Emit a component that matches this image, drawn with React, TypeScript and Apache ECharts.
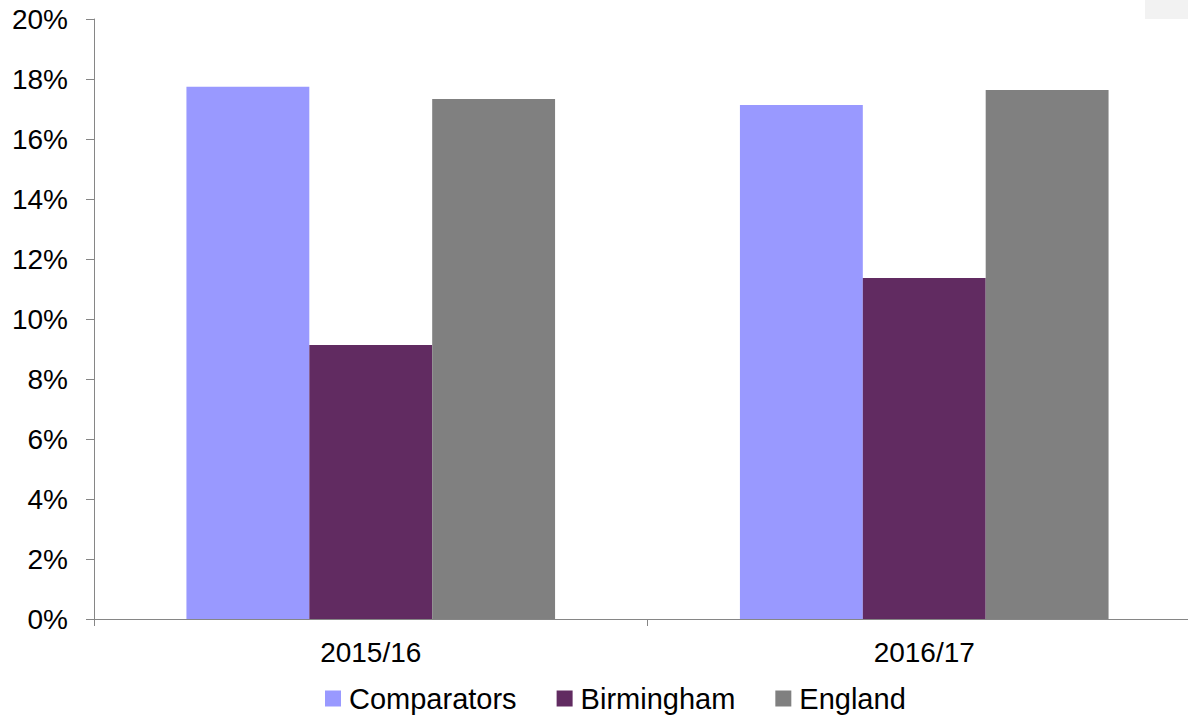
import React, { useEffect, useRef } from "react";
import * as echarts from "echarts";

const categories = ["2015/16", "2016/17"];
const seriesNames = ["Comparators", "Birmingham", "England"];
const comparators = [17.74, 17.13];
const birmingham = [9.13, 11.37];
const england = [17.33, 17.63];
const yTicks = { min: 0, max: 20, interval: 2 };
const colors = ["#9999FF", "#612B61", "#808080"];

export default function App() {
  const ref = useRef<HTMLDivElement>(null);
  useEffect(() => {
    if (!ref.current) return;
    const chart = echarts.init(ref.current, undefined, { renderer: "svg" });
    const font = "'Liberation Sans', Arial, sans-serif";
    const data = [comparators, birmingham, england];
    chart.setOption({
      animation: false,
      backgroundColor: "#ffffff",
      textStyle: { fontFamily: font },
      grid: { left: 94, top: 19, width: 1107, height: 600, containLabel: false },
      legend: {
        data: seriesNames,
        top: 684,
        left: 325,
        padding: 0,
        itemWidth: 16,
        itemHeight: 16,
        itemGap: 40,
        icon: "rect",
        textStyle: { fontSize: 29, lineHeight: 28, color: "#000", fontFamily: font, padding: [0, 0, 0, 3] },
      },
      xAxis: {
        type: "category",
        data: categories,
        axisLine: { lineStyle: { color: "#868686", width: 1 } },
        axisTick: { show: true, length: 7, lineStyle: { color: "#868686" } },
        axisLabel: { fontSize: 28, color: "#000", margin: 19, fontFamily: font },
        splitLine: { show: false },
      },
      yAxis: {
        type: "value",
        min: yTicks.min,
        max: yTicks.max,
        interval: yTicks.interval,
        axisLine: { show: true, lineStyle: { color: "#868686", width: 1 } },
        axisTick: { show: true, length: 8, lineStyle: { color: "#868686" } },
        axisLabel: { fontSize: 28, color: "#000", margin: 26, formatter: "{value}%", fontFamily: font },
        splitLine: { show: false },
      },
      graphic: [
        { type: "rect", left: 1145, top: 0, shape: { width: 43, height: 19 }, style: { fill: "#f2f2f2" } },
      ],
      series: seriesNames.map((name, i) => ({
        name,
        type: "bar",
        data: data[i],
        barGap: "0%",
        barCategoryGap: "33.4%",
        itemStyle: { color: colors[i] },
      })),
    });
    return () => chart.dispose();
  }, []);
  return (
    <div style={{ position: "fixed", left: 0, top: 0, width: 1188, height: 715, overflow: "hidden", background: "#fff" }}>
      <div ref={ref} style={{ width: 1215, height: 715 }} />
    </div>
  );
}
